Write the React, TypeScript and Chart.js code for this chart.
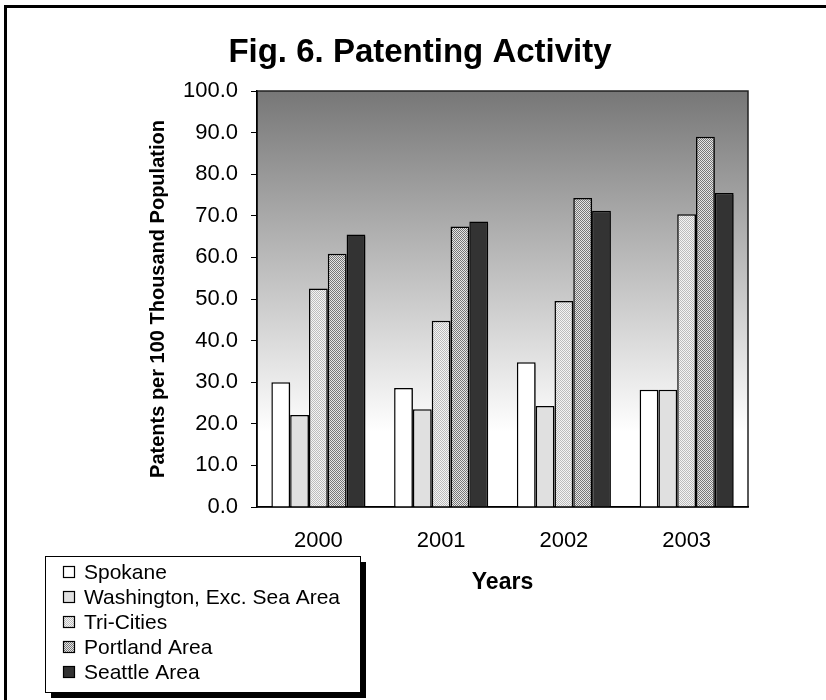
import React, { useEffect, useRef } from "react";
import { Chart, registerables } from "chart.js";

Chart.register(...registerables);

// Patents per 100 thousand population, by region and year
const years = ["2000", "2001", "2002", "2003"];
const seriesNames = [
  "Spokane",
  "Washington, Exc. Sea Area",
  "Tri-Cities",
  "Portland Area",
  "Seattle Area",
];
const spokane = [30.0, 28.6, 34.8, 28.2];
const washington = [22.1, 23.5, 24.3, 28.2];
const triCities = [52.5, 44.8, 49.5, 70.4];
const portland = [60.9, 67.4, 74.3, 89.0];
const seattle = [65.5, 68.6, 71.2, 75.5];

const titleText = "Fig. 6. Patenting Activity";
const yTitleText = "Patents per 100 Thousand Population";
const xTitleText = "Years";

const FONT = "'Liberation Sans', Arial, sans-serif";

function checker(a: string, b: string): CanvasPattern | string {
  const c = document.createElement("canvas");
  c.width = 2;
  c.height = 2;
  const g = c.getContext("2d");
  if (!g) return a;
  g.fillStyle = a;
  g.fillRect(0, 0, 2, 2);
  g.fillStyle = b;
  g.fillRect(0, 0, 1, 1);
  g.fillRect(1, 1, 1, 1);
  const p = g.createPattern(c, "repeat");
  return p || a;
}

const decorPlugin = {
  id: "decor",
  beforeDraw(chart: any) {
    const { ctx, chartArea: a, width, height } = chart;
    ctx.save();
    ctx.fillStyle = "#ffffff";
    ctx.fillRect(0, 0, width, height);
    // chart frame (left and top edges)
    ctx.fillStyle = "#000000";
    ctx.fillRect(4, 5, 3, height - 5);
    ctx.fillRect(4, 5, width - 4, 3);
    // plot area gradient
    const grad = ctx.createLinearGradient(0, a.top, 0, a.bottom);
    grad.addColorStop(0, "#777777");
    grad.addColorStop(0.82, "#ffffff");
    grad.addColorStop(1, "#ffffff");
    ctx.fillStyle = grad;
    ctx.fillRect(a.left, a.top, a.right - a.left, a.bottom - a.top);
    ctx.strokeStyle = "#222222";
    ctx.lineWidth = 1.5;
    ctx.strokeRect(a.left, a.top, a.right - a.left, a.bottom - a.top);
    ctx.restore();
  },
  beforeDatasetsDraw(chart: any) {
    const ctx = chart.ctx;
    ctx.save();
    ctx.shadowColor = "rgba(0,0,0,0.35)";
    ctx.shadowOffsetX = 2;
    ctx.shadowOffsetY = 2;
    ctx.shadowBlur = 0;
  },
  afterDatasetsDraw(chart: any) {
    chart.ctx.restore();
  },
  afterDraw(chart: any) {
    const { ctx, chartArea: a } = chart;
    ctx.save();
    ctx.fillStyle = "#000000";
    // title
    ctx.font = `bold 33px ${FONT}`;
    ctx.textAlign = "center";
    ctx.textBaseline = "alphabetic";
    ctx.fillText(titleText, 420, 62);
    // x axis title
    ctx.font = `bold 23px ${FONT}`;
    ctx.textBaseline = "middle";
    ctx.fillText(xTitleText, (a.left + a.right) / 2, 583);
    // y axis title
    ctx.save();
    ctx.translate(158, (a.top + a.bottom) / 2);
    ctx.rotate(-Math.PI / 2);
    ctx.font = `bold 20px ${FONT}`;
    ctx.fillText(yTitleText, 0, 0);
    ctx.restore();

    // legend box with drop shadow
    const lx = 45, ly = 556, lw = 315, lh = 136;
    ctx.fillStyle = "#000000";
    ctx.fillRect(lx + 6, ly + 6, lw, lh);
    ctx.fillStyle = "#ffffff";
    ctx.fillRect(lx, ly, lw, lh);
    ctx.strokeStyle = "#000000";
    ctx.lineWidth = 1;
    ctx.strokeRect(lx + 0.5, ly + 0.5, lw, lh);
    ctx.font = `21px ${FONT}`;
    ctx.textAlign = "left";
    ctx.textBaseline = "middle";
    chart.data.datasets.forEach((ds: any, i: number) => {
      const cy = 572 + i * 25;
      ctx.fillStyle = ds.backgroundColor;
      ctx.fillRect(63, cy - 6, 12, 12);
      ctx.strokeStyle = "#000000";
      ctx.lineWidth = 1.2;
      ctx.strokeRect(63.5, cy - 5.5, 11, 11);
      ctx.fillStyle = "#000000";
      ctx.fillText(ds.label, 84, cy + 1);
    });
    ctx.restore();
  },
};

export default function App() {
  const ref = useRef<HTMLCanvasElement>(null);

  useEffect(() => {
    if (!ref.current) return;
    const fills = [
      "#ffffff",
      "#e0e0e0",
      checker("#f4f4f4", "#bcbcbc"),
      checker("#e6e6e6", "#777777"),
      "#333333",
    ];
    const values = [spokane, washington, triCities, portland, seattle];
    const chart = new Chart(ref.current, {
      type: "bar",
      data: {
        labels: years,
        datasets: values.map((v, i) => ({
          label: seriesNames[i],
          data: v,
          backgroundColor: fills[i] as any,
          borderColor: "#000000",
          borderWidth: 1.5,
          categoryPercentage: 0.766,
          barPercentage: 1.0,
        })),
      },
      options: {
        responsive: false,
        animation: false,
        devicePixelRatio: 1,
        layout: { padding: { left: 100, right: 78, top: 91, bottom: 0 } },
        plugins: {
          legend: { display: false },
          title: { display: false },
          tooltip: { enabled: false },
        },
        scales: {
          x: {
            grid: { display: false, drawTicks: false, tickLength: 0 },
            border: { color: "#000000", width: 1.5 },
            ticks: {
              color: "#000000",
              font: { family: FONT, size: 22 },
              padding: 21,
            },
            afterFit: (s: any) => {
              s.height = 193;
            },
          },
          y: {
            min: 0,
            max: 100,
            grid: {
              drawOnChartArea: false,
              drawTicks: true,
              tickLength: 6,
              color: "#000000",
            },
            border: { color: "#000000", width: 1.5 },
            ticks: {
              stepSize: 10,
              color: "#000000",
              font: { family: FONT, size: 22 },
              padding: 13,
              callback: (v: any) => Number(v).toFixed(1),
            },
            afterFit: (s: any) => {
              s.width = 157;
            },
          },
        },
      },
      plugins: [decorPlugin],
    });
    return () => chart.destroy();
  }, []);

  return (
    <div style={{ position: "absolute", left: 0, top: 0 }}>
      <canvas ref={ref} width={826} height={700} />
    </div>
  );
}
